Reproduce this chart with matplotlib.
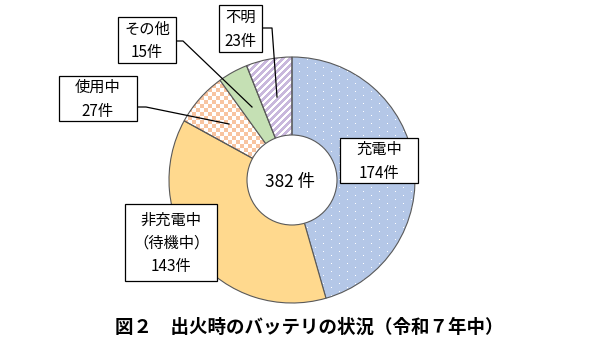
import matplotlib.pyplot as plt
import numpy as np
from matplotlib.colors import to_rgb
from matplotlib.patches import Circle, Rectangle

plt.rcParams['font.family'] = ['Noto Sans CJK JP', 'DejaVu Sans']

# data
labels = ['充電中', '非充電中\n（待機中）', '使用中', 'その他', '不明']
counts = [174, 143, 27, 15, 23]
unit = '件'
title = '図２　出火時のバッテリの状況（令和７年中）'

W, H = 590, 351
cx, cy, R, r_hole = 292, 180, 123, 45
edge = '#595959'

fig = plt.figure(figsize=(5.9, 3.51), dpi=100)
ax = fig.add_axes([0, 0, 1, 1])

# y axis is inverted below, so start at -90 / counterclock gives top + clockwise
wedges, _ = ax.pie(counts, startangle=-90, counterclock=True, center=(cx, cy), radius=R,
                   colors=['#B4C7E7', '#FFD98E', '#FFFFFF', '#C5E0B4', '#FFFFFF'],
                   wedgeprops=dict(edgecolor=edge, linewidth=0.8))

# pixel patterns for the hatched slices
yy, xx = np.mgrid[0:H, 0:W]


def pattern(mask, c_on, c_off):
    img = np.empty((H, W, 3))
    img[:] = to_rgb(c_off)
    img[mask] = to_rgb(c_on)
    return img


dots = (xx % 8 == 3) & (((yy % 8 == 3) & ((xx // 8) % 2 == 0)) | ((yy % 8 == 7) & ((xx // 8) % 2 == 1)))
checker = ((xx // 4 + yy // 4) % 2) == 0
stripes = ((xx + yy) % 7) < 3

fills = {0: pattern(dots, '#FFFFFF', '#B4C7E7'),
         2: pattern(checker, '#F8C4A0', '#FFFFFF'),
         4: pattern(stripes, '#FFFFFF', '#C9B8DC')}

for i, img in fills.items():
    im = ax.imshow(img, extent=(0, W, H, 0), origin='upper', interpolation='nearest', zorder=2)
    im.set_clip_path(wedges[i])
    wedges[i].set_facecolor('none')

for w in wedges:
    w.set_zorder(3)

# hole in the middle
ax.add_patch(Circle((cx, cy), r_hole, facecolor='white', edgecolor=edge, linewidth=0.8, zorder=4))
ax.text(cx - 2, cy + 2, f'{sum(counts)} {unit}', ha='center', va='center', fontsize=12.5, zorder=5)

# label boxes (left, top, right, bottom in pixels)
boxes = [(340, 138, 418, 183), (125, 204, 217, 281), (59, 76, 137, 121),
         (118, 17, 176, 63), (219, 5, 262, 52)]
for lab, n, (x0, y0, x1, y1) in zip(labels, counts, boxes):
    ax.add_patch(Rectangle((x0, y0), x1 - x0, y1 - y0, facecolor='white',
                           edgecolor='black', linewidth=0.9, zorder=7))
    ax.text((x0 + x1) / 2, (y0 + y1) / 2 + 1, f'{lab}\n{n}{unit}', ha='center', va='center',
            fontsize=11, linespacing=1.5, zorder=8)

# leader lines
leaders = {2: [(137, 107), (146, 107), (229, 124)],
           3: [(176, 41), (183, 41), (252, 107)],
           4: [(262, 28), (272, 28), (277, 97)]}
for i, pts in leaders.items():
    px, py = zip(*pts)
    ax.plot(px, py, color='black', linewidth=0.9, zorder=6)

fig.text(309 / W, 1 - 327 / H, title, ha='center', va='center', fontsize=13.3, fontweight='bold')

ax.set_xlim(0, W)
ax.set_ylim(H, 0)
ax.set_aspect('auto')
ax.axis('off')

fig.savefig('out.png', dpi=100)
